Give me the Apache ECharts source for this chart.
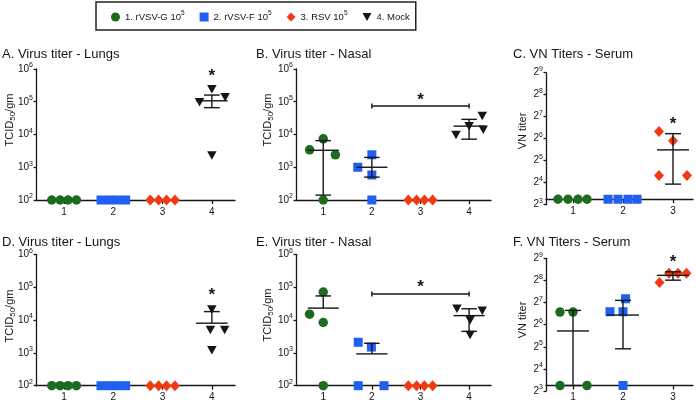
<!DOCTYPE html>
<html>
<head>
<meta charset="utf-8">
<script src="https://cdn.jsdelivr.net/npm/echarts@6/dist/echarts.min.js"></script>
<style>
  html, body { margin: 0; padding: 0; background: #fff; }
  #chart { width: 696px; height: 404px; }
</style>
</head>
<body>
<div id="chart"></div>
<script>
// ---- data ----
const groupNames = ['1. rVSV-G', '2. rVSV-F', '3. RSV', '4. Mock'];
const xTicks4 = [1, 2, 3, 4];
const xTicks3 = [1, 2, 3];

// A. Virus titer - Lungs
const aG1 = [[0.75, 100], [0.92, 100], [1.08, 100], [1.25, 100]];
const aG2 = [[1.75, 100], [1.92, 100], [2.08, 100], [2.25, 100]];
const aG3 = [[2.75, 100], [2.92, 100], [3.08, 100], [3.25, 100]];
const aG4 = [[4.0, 2.4e5], [3.75, 9.6e4], [4.27, 1.38e5], [4.0, 2.3e3]];
const aErr = [[4, 1.07e5, 6.6e4, 1.6e5]]; // x, mean, low, high
const aStar = [[4, 7.6e5]];

// B. Virus titer - Nasal
const bG1 = [[0.72, 3.4e3], [1.0, 7.4e3], [1.25, 2.4e3], [1.0, 100]];
const bG2 = [[2.0, 2.4e3], [1.71, 1.0e3], [2.0, 580], [2.0, 100]];
const bG3 = [[2.75, 100], [2.92, 100], [3.08, 100], [3.25, 100]];
const bG4 = [[4.27, 3.7e4], [4.0, 1.8e4], [3.73, 9.7e3], [4.29, 1.4e4]];
const bErr = [[1, 3.3e3, 141, 6.5e3], [2, 1.0e3, 500, 2.0e3], [4, 1.8e4, 7.2e3, 2.9e4]];
const bSig = [[2, 4, 7.4e4]];
const bStar = [[3, 1.4e5]];

// C. VN Titers - Serum
const cG1 = [[0.7, 9.5], [0.9, 9.5], [1.1, 9.5], [1.28, 9.5]];
const cG2 = [[1.7, 9.5], [1.9, 9.5], [2.1, 9.5], [2.28, 9.5]];
const cG3 = [[2.72, 80], [3.0, 60], [2.72, 20], [3.28, 20]];
const cErr = [[3, 45, 15.3, 75]];
const cStar = [[3, 111]];

// D. Virus titer - Lungs
const dG1 = [[0.75, 100], [0.92, 100], [1.08, 100], [1.25, 100]];
const dG2 = [[1.75, 100], [1.92, 100], [2.08, 100], [2.25, 100]];
const dG3 = [[2.75, 100], [2.92, 100], [3.08, 100], [3.25, 100]];
const dG4 = [[4.0, 2.1e4], [3.97, 5.0e3], [4.26, 5.0e3], [4.0, 1.2e3]];
const dErr = [[4, 8.0e3, 8.0e3, 1.8e4]];
const dStar = [[4, 6.9e4]];

// E. Virus titer - Nasal
const eG1 = [[1.0, 7.1e4], [0.72, 1.5e4], [1.0, 8.4e3], [1.0, 100]];
const eG2 = [[1.72, 2.1e3], [1.99, 1.5e3], [1.72, 100], [2.25, 100]];
const eG3 = [[2.75, 100], [2.92, 100], [3.08, 100], [3.25, 100]];
const eG4 = [[3.75, 2.2e4], [4.27, 1.9e4], [4.02, 9.9e3], [4.02, 3.5e3]];
const eErr = [[1, 2.3e4, 2.3e4, 5.4e4], [2, 930, 930, 1.95e3], [4, 1.36e4, 4.5e3, 2.2e4]];
const eSig = [[2, 4, 6.2e4]];
const eStar = [[3, 1.2e5]];

// F. VN Titers - Serum
const fG1 = [[0.74, 95], [1.0, 95], [0.74, 9.5], [1.28, 9.5]];
const fG2 = [[2.05, 144], [1.74, 96], [2.0, 96], [2.0, 9.5]];
const fG3 = [[2.73, 240], [2.92, 320], [3.1, 320], [3.27, 320]];
const fErr = [[1, 52.5, 9.5, 100], [2, 86.5, 30, 137], [3, 300, 258, 335]];
const fStar = [[3, 500]];

// ---- styles ----
const font = 'Liberation Sans, Arial, Helvetica, sans-serif';
const ink = '#161616';
const colors = ['#1d6b1f', '#1f5ff2', '#f23a12', '#161616'];
const symbols = ['circle', 'rect', 'diamond', 'path://M0,0L10,0L5,9Z'];
const symbolSizes = [9.5, 9, [10, 11], [9.5, 8.5]];

const supRich = {
  b: { fontSize: 10, color: ink, lineHeight: 14, fontFamily: font },
  s: { fontSize: 7, color: ink, verticalAlign: 'top', fontFamily: font }
};

const grids = [
  { left: 36, top: 69, width: 199, height: 131 },
  { left: 296, top: 69, width: 195, height: 131 },
  { left: 546, top: 72.7, width: 147, height: 132 },
  { left: 36, top: 254.3, width: 199, height: 131.4 },
  { left: 296, top: 254.3, width: 195, height: 131.4 },
  { left: 546, top: 258.3, width: 147, height: 132.7 }
];

const lineStyle = { color: ink, width: 1.3 };

function xAxisFor(gi, min, max, ticks, offset) {
  return {
    type: 'value', gridIndex: gi, min: min, max: max, offset: offset || 0,
    splitLine: { show: false },
    axisLine: { show: true, lineStyle: lineStyle },
    axisTick: { show: true, customValues: ticks, length: 4, lineStyle: lineStyle },
    axisLabel: { customValues: ticks, fontSize: 10, color: ink, fontFamily: font, margin: 7 }
  };
}

function yAxisFor(gi, base, min, max) {
  return {
    type: 'log', logBase: base, gridIndex: gi, min: min, max: max,
    splitLine: { show: false },
    axisLine: { show: true, lineStyle: lineStyle },
    axisTick: { show: true, length: 2.5, lineStyle: lineStyle },
    axisLabel: {
      margin: 3,
      formatter: function (v) {
        const p = Math.round(Math.log(v) / Math.log(base));
        return '{b|' + base + '}{s|' + p + '}';
      },
      rich: supRich
    }
  };
}

function errRender(params, api) {
  const x = api.value(0), m = api.value(1), lo = api.value(2), hi = api.value(3);
  const pm = api.coord([x, m]);
  const ml = api.coord([x - 0.32, m]);
  const mr = api.coord([x + 0.32, m]);
  const ph = api.coord([x, hi]);
  const pl = api.coord([x, lo]);
  const cw = api.coord([x + 0.16, m])[0] - pm[0];
  const style = { stroke: ink, lineWidth: 1.4, fill: null };
  const kids = [
    { type: 'line', shape: { x1: ml[0], y1: ml[1], x2: mr[0], y2: mr[1] }, style: style },
    { type: 'line', shape: { x1: pm[0], y1: ph[1], x2: pm[0], y2: pl[1] }, style: style },
    { type: 'line', shape: { x1: pm[0] - cw, y1: ph[1], x2: pm[0] + cw, y2: ph[1] }, style: style }
  ];
  if (lo < m) {
    kids.push({ type: 'line', shape: { x1: pm[0] - cw, y1: pl[1], x2: pm[0] + cw, y2: pl[1] }, style: style });
  }
  return { type: 'group', children: kids };
}

function sigRender(params, api) {
  const a = api.coord([api.value(0), api.value(2)]);
  const b = api.coord([api.value(1), api.value(2)]);
  const style = { stroke: ink, lineWidth: 1.4 };
  return {
    type: 'group', children: [
      { type: 'line', shape: { x1: a[0], y1: a[1], x2: b[0], y2: b[1] }, style: style },
      { type: 'line', shape: { x1: a[0], y1: a[1] - 2.5, x2: a[0], y2: a[1] + 2.5 }, style: style },
      { type: 'line', shape: { x1: b[0], y1: b[1] - 2.5, x2: b[0], y2: b[1] + 2.5 }, style: style }
    ]
  };
}

function starRender(params, api) {
  const p = api.coord([api.value(0), api.value(1)]);
  return {
    type: 'text', x: p[0], y: p[1] + 3,
    style: { text: '*', fontSize: 17, fontWeight: 'bold', fontFamily: font, fill: ink, align: 'center', verticalAlign: 'middle' }
  };
}

const series = [];
function addPanel(gi, groups, err, star, sig) {
  groups.forEach(function (g, k) {
    series.push({
      name: groupNames[k], type: 'scatter', xAxisIndex: gi, yAxisIndex: gi,
      symbol: symbols[k], symbolSize: symbolSizes[k], data: g, z: 3,
      itemStyle: { color: colors[k], opacity: 1 }
    });
  });
  series.push({ type: 'custom', xAxisIndex: gi, yAxisIndex: gi, data: err, renderItem: errRender, z: 4, silent: true });
  series.push({ type: 'custom', xAxisIndex: gi, yAxisIndex: gi, data: star, renderItem: starRender, z: 4, silent: true });
  if (sig) series.push({ type: 'custom', xAxisIndex: gi, yAxisIndex: gi, data: sig, renderItem: sigRender, z: 4, silent: true });
}
addPanel(0, [aG1, aG2, aG3, aG4], aErr, aStar);
addPanel(1, [bG1, bG2, bG3, bG4], bErr, bStar, bSig);
addPanel(2, [cG1, cG2, cG3], cErr, cStar);
addPanel(3, [dG1, dG2, dG3, dG4], dErr, dStar);
addPanel(4, [eG1, eG2, eG3, eG4], eErr, eStar, eSig);
addPanel(5, [fG1, fG2, fG3], fErr, fStar);

const titleStyle = { fontSize: 13, fontWeight: 'normal', color: ink, fontFamily: font };
const titles = [
  ['A. Virus titer - Lungs', 2, 48],
  ['B. Virus titer - Nasal', 256, 48],
  ['C. VN Titers - Serum', 513, 48],
  ['D. Virus titer - Lungs', 2, 236],
  ['E. Virus titer - Nasal', 256, 236],
  ['F. VN Titers - Serum', 513, 236]
].map(function (t) {
  return { text: t[0], left: t[1], top: t[2], padding: 0, textStyle: titleStyle };
});

const nameRich = {
  b: { fontSize: 11, fill: ink, color: ink, fontFamily: font, lineHeight: 14 },
  u: { fontSize: 8, fill: ink, color: ink, fontFamily: font, verticalAlign: 'bottom' }
};
function yName(x, y, text) {
  return {
    type: 'text', x: x, y: y, rotation: Math.PI / 2,
    style: { text: text, align: 'center', verticalAlign: 'middle', fill: ink, fontFamily: font, fontSize: 11, rich: nameRich }
  };
}

const chart = echarts.init(document.getElementById('chart'));
chart.setOption({
  animation: false,
  textStyle: { fontFamily: font },
  title: titles,
  legend: {
    data: groupNames,
    left: 96, top: 2,
    padding: [8, 6, 8, 15],
    itemGap: 15, itemWidth: 9, itemHeight: 9,
    borderColor: '#222', borderWidth: 1.5,
    formatter: function (n) {
      return n === '4. Mock' ? '{b|' + n + '}' : '{b|' + n + ' 10}{s|5}';
    },
    textStyle: {
      fontSize: 9.5, color: ink, fontFamily: font,
      rich: {
        b: { fontSize: 9.5, color: ink, fontFamily: font, lineHeight: 14 },
        s: { fontSize: 6.5, color: ink, fontFamily: font, verticalAlign: 'top' }
      }
    }
  },
  grid: grids,
  xAxis: [
    xAxisFor(0, 0.43, 4.47, xTicks4),
    xAxisFor(1, 0.44, 4.45, xTicks4),
    xAxisFor(2, 0.46, 3.4, xTicks3, -5.5),
    xAxisFor(3, 0.43, 4.47, xTicks4),
    xAxisFor(4, 0.44, 4.45, xTicks4),
    xAxisFor(5, 0.46, 3.4, xTicks3, -5.5)
  ],
  yAxis: [
    yAxisFor(0, 10, 100, 1e6),
    yAxisFor(1, 10, 100, 1e6),
    yAxisFor(2, 2, 8, 512),
    yAxisFor(3, 10, 100, 1e6),
    yAxisFor(4, 10, 100, 1e6),
    yAxisFor(5, 2, 8, 512)
  ],
  graphic: [
    yName(10, 120, '{b|TCID}{u|50}{b|/gm}'),
    yName(268, 120, '{b|TCID}{u|50}{b|/gm}'),
    yName(523, 131, '{b|VN titer}'),
    yName(10, 316, '{b|TCID}{u|50}{b|/gm}'),
    yName(268, 315, '{b|TCID}{u|50}{b|/gm}'),
    yName(523, 320, '{b|VN titer}')
  ],
  series: series
});
</script>
</body>
</html>
